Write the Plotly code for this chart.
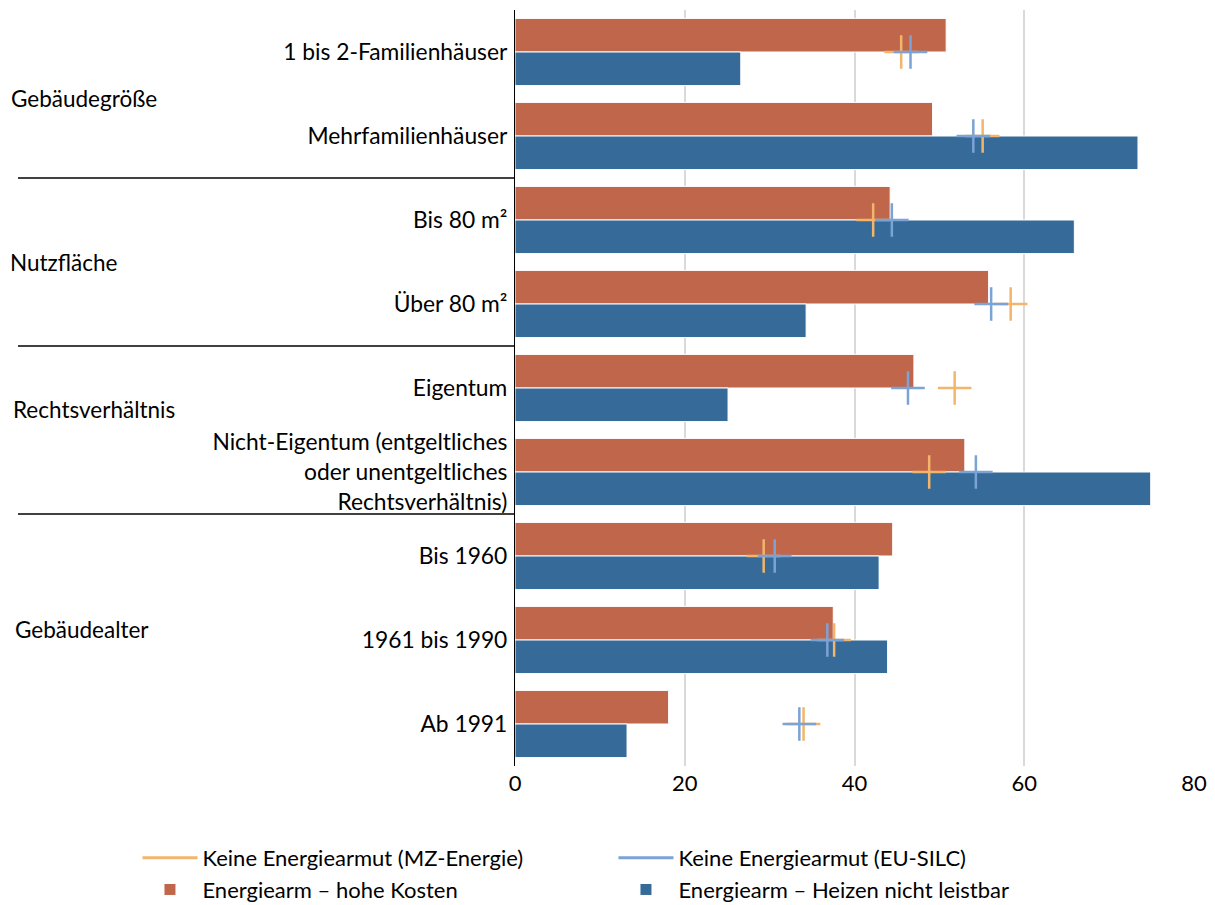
import plotly.graph_objects as go

categories = [
    "1 bis 2-Familienhäuser",
    "Mehrfamilienhäuser",
    "Bis 80 m²",
    "Über 80 m²",
    "Eigentum",
    "Nicht-Eigentum (entgeltliches<br>oder unentgeltliches<br>Rechtsverhältnis)",
    "Bis 1960",
    "1961 bis 1990",
    "Ab 1991",
]
groups = ["Gebäudegröße", "Nutzfläche", "Rechtsverhältnis", "Gebäudealter"]

hohe_kosten = [50.8, 49.2, 44.2, 55.8, 47.0, 53.0, 44.5, 37.5, 18.1]
heizen_nicht_leistbar = [26.6, 73.4, 65.9, 34.3, 25.1, 74.9, 42.9, 43.9, 13.2]
keine_mz = [45.5, 55.1, 42.2, 58.4, 51.8, 48.8, 29.3, 37.6, 34.0]
keine_silc = [46.6, 54.0, 44.4, 56.1, 46.3, 54.3, 30.6, 36.8, 33.5]

x_ticks = [0, 20, 40, 60, 80]

ORANGE = "#C0664A"
BLUE = "#366A98"
L_ORANGE = "#F2B56B"
L_BLUE = "#7BA3D6"
FONT = "Lato"
FS = 22

fig = go.Figure()

# Legend-only line entries (first row)
fig.add_trace(go.Scatter(x=[None], y=[None], mode="lines", name="Keine Energiearmut (MZ-Energie)",
                         line=dict(color=L_ORANGE, width=3), legendrank=1))
fig.add_trace(go.Scatter(x=[None], y=[None], mode="lines", name="Keine Energiearmut (EU-SILC)",
                         line=dict(color=L_BLUE, width=3), legendrank=2))

fig.add_trace(go.Bar(y=categories, x=hohe_kosten, orientation="h", name="Energiearm – hohe Kosten",
                     marker=dict(color=ORANGE, line=dict(color="white", width=1)), legendrank=3))
fig.add_trace(go.Bar(y=categories, x=heizen_nicht_leistbar, orientation="h",
                     name="Energiearm – Heizen nicht leistbar",
                     marker=dict(color=BLUE, line=dict(color="white", width=1)), legendrank=4))

fig.add_trace(go.Scatter(y=categories, x=keine_mz, mode="markers", showlegend=False,
                         marker=dict(symbol="cross-thin-open", size=24, color=L_ORANGE,
                                     line=dict(color=L_ORANGE, width=2.5))))
fig.add_trace(go.Scatter(y=categories, x=keine_silc, mode="markers", showlegend=False,
                         marker=dict(symbol="cross-thin-open", size=24, color=L_BLUE,
                                     line=dict(color=L_BLUE, width=2.5))))

# group separators
for yy in [1.5, 3.5, 5.5]:
    fig.add_shape(type="line", xref="paper", yref="y", x0=-0.732, x1=0, y0=yy, y1=yy,
                  line=dict(color="black", width=1.5), layer="above")

group_y = [0.55, 2.5, 4.26, 6.88]
group_x = [-0.745, -0.746, -0.742, -0.740]
for g, gy, gx in zip(groups, group_y, group_x):
    fig.add_annotation(text=g, xref="paper", yref="y", x=gx, y=gy, xanchor="left",
                       yanchor="middle", showarrow=False, font=dict(size=22.5, color="black", family=FONT))

fig.update_layout(
    width=1207, height=897,
    margin=dict(l=507, r=21, t=2, b=139, autoexpand=False),
    barmode="group", bargap=0.2, bargroupgap=0,
    plot_bgcolor="white", paper_bgcolor="white",
    font=dict(family=FONT, size=FS, color="black"),
    xaxis=dict(range=[0, 80], tickvals=x_ticks, showgrid=True, gridcolor="#D9D9D9", gridwidth=1.5,
               zeroline=False, showline=False, ticks="", ticklabelstandoff=2, automargin=False),
    yaxis=dict(type="category", range=[len(categories) - 0.5, -0.5], categoryorder="array",
               categoryarray=categories, tickfont=dict(size=22.8),
               showline=True, linecolor="black", linewidth=1.2, ticks="", ticklabelstandoff=2,
               showgrid=False, automargin=False),
    legend=dict(orientation="h", x=-0.556, y=-0.094, xanchor="left", yanchor="top",
                entrywidth=406, entrywidthmode="pixels", font=dict(size=FS, family=FONT),
                traceorder="normal", itemwidth=55),
    showlegend=True,
)

fig.write_html("out.html")
